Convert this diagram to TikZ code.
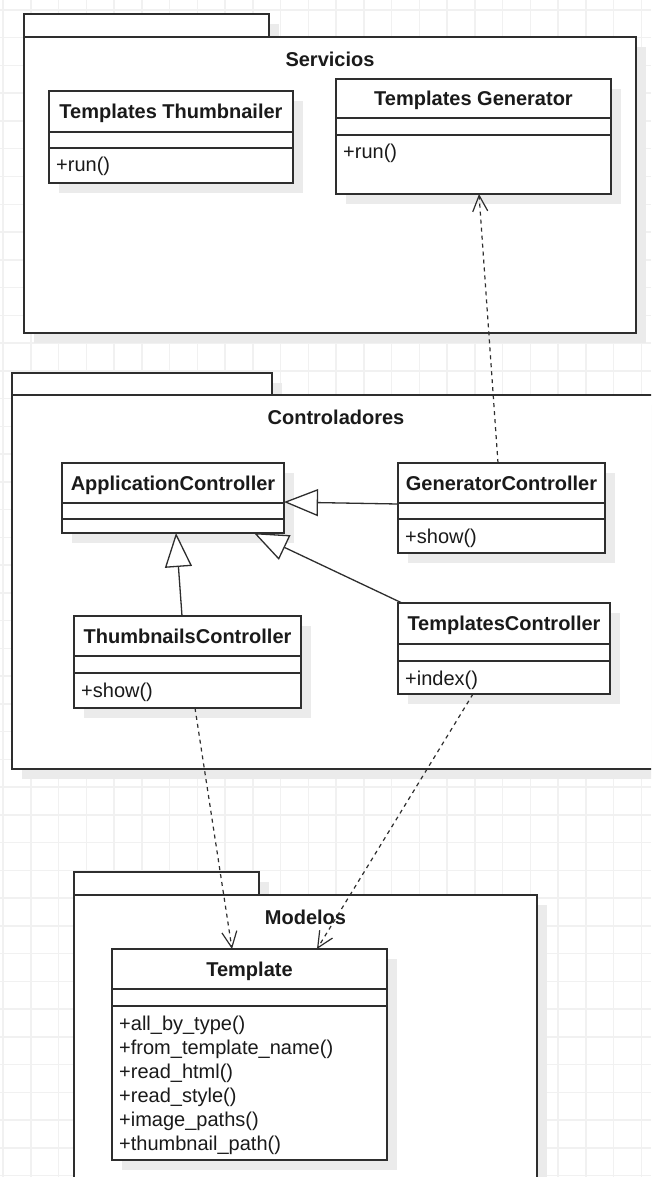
\documentclass[tikz,border=0pt]{standalone}
\usepackage{fontspec}
\setmainfont{Liberation Sans}
\usetikzlibrary{arrows.meta}

\definecolor{gridline}{HTML}{F1F1F1}
\definecolor{shadowgray}{HTML}{EBEBEB}
\definecolor{inkline}{HTML}{2E2E2E}
\definecolor{inktext}{HTML}{1A1A1A}

\tikzset{
  classbox/.style={rectangle, draw=inkline, fill=white, line width=1.4pt, inner sep=0pt, outer sep=0pt},
  pkgbox/.style={rectangle, draw=inkline, fill=white, line width=1.5pt, inner sep=0pt, outer sep=0pt},
  sepline/.style={draw=inkline, line width=1.4pt},
  classtitle/.style={inner sep=0pt, text=inktext, font=\fontsize{20}{24}\selectfont\bfseries},
  methodtext/.style={inner sep=0pt, text=inktext, font=\fontsize{20}{24}\selectfont},
  pkgtitle/.style={inner sep=0pt, text=inktext, font=\fontsize{20}{24}\selectfont\bfseries},
  generalization/.style={draw=inkline, line width=1.3pt,
    -{Triangle[open, length=34pt, width=27pt, fill=white]}},
  dependency/.style={draw=inkline, line width=1.2pt, dash pattern=on 4pt off 4pt,
    -{Straight Barb[length=16pt, width=15pt, line width=1.2pt]}},
}

% #1 name, #2 left, #3 tab top, #4 tab right, #5 body top, #6 right, #7 bottom, #8 title
\newcommand\umlpackage[8]{%
  \fill[shadowgray] ({#2+10},{#3+10}) rectangle ({#4+10},{#5+10});
  \fill[shadowgray] ({#2+10},{#5+10}) rectangle ({#6+10},{#7+10});
  \node[pkgbox, minimum width={(#4-#2)*1pt}, minimum height={(#5-#3)*1pt}]
    (#1-tab) at ({(#2+#4)/2},{(#3+#5)/2}) {};
  \node[pkgbox, minimum width={(#6-#2)*1pt}, minimum height={(#7-#5)*1pt}]
    (#1) at ({(#2+#6)/2},{(#5+#7)/2}) {};
  \node[pkgtitle, anchor=base] (#1-title) at ({(#2+#6)/2},{#5+29.5}) {#8};
}

% #1 name, #2 left, #3 top, #4 right, #5 bottom, #6 first rule, #7 second rule,
% #8 class name, #9 operations
\newcommand\umlclass[9]{%
  \fill[shadowgray] ({#2+10},{#3+10}) rectangle ({#4+10},{#5+10});
  \node[classbox, minimum width={(#4-#2)*1pt}, minimum height={(#5-#3)*1pt}]
    (#1) at ({(#2+#4)/2},{(#3+#5)/2}) {};
  \draw[sepline] (#1.west |- 0,#6) -- (#1.east |- 0,#6);
  \draw[sepline] (#1.west |- 0,#7) -- (#1.east |- 0,#7);
  \node[classtitle, anchor=base] (#1-title) at ({(#2+#4)/2},{(#3+#6)/2+7}) {#8};
  \foreach \op [count=\k] in {#9}
    \node[methodtext, anchor=base west] (#1-op\k) at ({#2+7},{#7+24*\k}) {\op};
}

\begin{document}
\begin{tikzpicture}[x=1pt, y=-1pt]
\useasboundingbox (0,0) rectangle (651,1177);
\clip (0,0) rectangle (651,1177);

% background grid
\fill[white] (0,0) rectangle (651,1177);
\foreach \i in {0,...,23}
  \draw[gridline, line width=1.5pt] ({3+27.75*\i},0) -- ({3+27.75*\i},1177);
\foreach \j in {0,...,42}
  \draw[gridline, line width=1.5pt] (0,{10+27.75*\j}) -- (651,{10+27.75*\j});

% packages
\umlpackage{servicios}{24}{14}{269}{37}{636}{333}{Servicios}
\umlpackage{controladores}{12}{373}{272}{395}{660}{769}{Controladores}
\umlpackage{modelos}{74}{872}{259}{895}{537}{1220}{Modelos}

% Servicios
\umlclass{thumbnailer}{49}{91}{293}{183}{132}{148}{Templates Thumbnailer}{+run()}
\umlclass{tgen}{336}{79}{611}{194}{118}{135}{Templates Generator}{+run()}

% Controladores
\umlclass{appc}{62}{463}{284}{533}{503}{519}{ApplicationController}{}
\umlclass{genc}{398}{463}{605}{553}{503}{519}{GeneratorController}{+show()}
\umlclass{thumbc}{74}{616}{301}{708}{656}{673}{ThumbnailsController}{+show()}
\umlclass{tempc}{398}{603}{610}{694}{644}{661}{TemplatesController}{+index()}

% Modelos
\umlclass{template}{112}{949}{387}{1160}{989}{1006}{Template}%
  {+all\_by\_type(),+from\_template\_name(),+read\_html(),+read\_style(),+image\_paths(),+thumbnail\_path()}

% inheritance
\draw[generalization] ([yshift=4pt]genc.west) -- ([yshift=-4pt]appc.east);
\draw[generalization] ([xshift=-5.5pt]thumbc.north) -- ([xshift=3pt]appc.south);
\draw[generalization] ([xshift=4pt]tempc.north west) -- ([xshift=-30pt]appc.south east);

% dependencies
\draw[dependency] ([xshift=-3.5pt]genc.north) -- ([xshift=5.5pt]tgen.south);
\draw[dependency] ([xshift=7.5pt]thumbc.south) -- ([xshift=-17.5pt]template.north);
\draw[dependency] ([xshift=-31pt]tempc.south) -- ([xshift=67.5pt]template.north);
\end{tikzpicture}
\end{document}
